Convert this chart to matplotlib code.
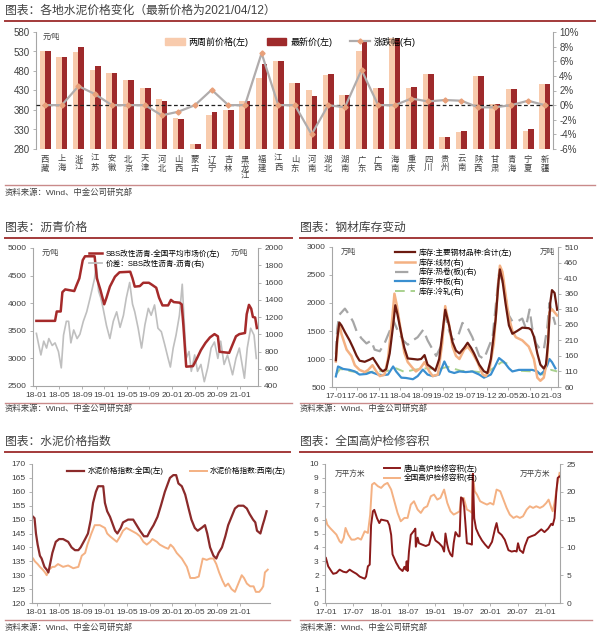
import matplotlib
matplotlib.use('Agg')
import matplotlib.pyplot as plt
from matplotlib.lines import Line2D
from matplotlib.patches import Patch
from matplotlib.ticker import FuncFormatter

plt.rcParams['font.family'] = ['Liberation Sans', 'Noto Sans CJK SC', 'DejaVu Sans']
plt.rcParams['axes.unicode_minus'] = False

# ---------------- data ----------------
# panel 1: cement prices by province
provinces = ['西藏', '上海', '浙江', '江苏', '安徽', '北京', '天津', '河北', '山西', '蒙古',
             '辽宁', '吉林', '黑龙江', '福建', '江西', '山东', '河南', '湖北', '湖南', '广东',
             '广西', '海南', '重庆', '四川', '贵州', '云南', '陕西', '甘肃', '青海', '宁夏', '新疆']
price_2w = [532, 517, 528, 483, 476, 457, 436, 409, 359, 293,
            367, 380, 402, 463, 505, 449, 432, 470, 419, 530,
            437, 565, 436, 473, 310, 323, 466, 396, 433, 327, 447]
price_new = [531, 516, 541, 492, 476, 457, 436, 404, 356, 293,
             376, 380, 404, 498, 505, 449, 415, 473, 419, 556,
             437, 565, 440, 473, 312, 326, 466, 396, 433, 331, 447]
price_chg = [0.0, 0.0, 2.6, 1.5, 0.0, 0.0, 0.0, -1.4, -0.9, 0.0,
             2.1, 0.0, 0.0, 7.1, 0.0, 0.0, -4.0, 0.0, -0.3, 4.8,
             0.0, 0.0, 0.9, 0.5, 0.7, 0.6, -0.3, -0.3, 0.0, 0.6, 0.0]

# panel 2: asphalt, months since 2018-01
sbs_t = [0.0, 3.3, 3.6, 4.3, 4.6, 5.1, 6.7, 7.0, 7.6, 8.2, 8.6, 10.3, 10.7, 11.3, 12.0,
         12.4, 13.0, 13.9, 14.7, 16.6, 17.0, 17.4, 18.3, 18.9, 19.9, 20.5, 21.2, 21.7,
         22.3, 23.3, 23.8, 24.3, 25.3, 25.7, 26.0, 26.5, 27.7, 28.4, 29.1, 29.9, 30.7,
         31.5, 32.1, 32.4, 34.1, 34.7, 35.3, 35.9, 36.9, 37.2, 37.6, 38.0, 38.3, 38.7, 39.0]
sbs_v = [3680, 3680, 3850, 3850, 4200, 4250, 4220, 4300, 4450, 4780, 4850, 4850, 4450, 4250, 3980,
         4100, 4300, 4480, 4560, 4570, 4450, 4300, 4310, 4370, 4370, 4330, 4280, 4100,
         3960, 3960, 4060, 4020, 4010, 3980, 3600, 2850, 2860, 3000, 3150, 3280, 3380,
         3440, 3400, 3120, 3100, 3250, 3400, 3440, 3460, 3800, 3970, 3900, 3750, 3740, 3550]
spread_t = [0.0, 0.4, 0.8, 1.3, 1.8, 2.2, 2.8, 3.3, 3.9, 4.4, 4.8, 5.3, 5.7, 6.1, 6.6, 7.2,
            7.7, 8.3, 8.9, 9.5, 10.3, 10.6, 11.0, 11.4, 11.8, 12.4, 13.0, 13.6, 14.2, 14.8,
            15.4, 15.9, 16.5, 17.0, 17.4, 18.0, 18.6, 19.2, 19.8, 20.3, 20.9, 21.5, 22.1,
            22.7, 23.3, 23.7, 24.2, 24.7, 25.3, 25.8, 26.1, 26.5, 27.0, 27.4, 28.0, 28.5,
            29.1, 29.7, 30.3, 30.9, 31.5, 32.1, 32.6, 33.2, 33.8, 34.7, 35.3, 35.9, 36.8,
            37.3, 37.9, 38.5, 38.9]
spread_v = [1010, 880, 760, 920, 840, 950, 870, 900, 800, 610, 990, 1150, 1150, 900, 1050, 950,
            1000, 1150, 1260, 1420, 1650, 1820, 1500, 1420, 1300, 1100, 950, 1150, 1260, 1080,
            1220, 1420, 1600, 1350, 1260, 1070, 840, 1110, 1300, 1220, 1340, 1070, 1030,
            880, 720, 620, 840, 990, 1220, 1580, 1200, 720, 800, 570, 760, 570,
            650, 450, 610, 840, 910, 720, 920, 650, 760, 530, 720, 840, 490,
            840, 1070, 990, 720]

# panel 3: steel inventory, months since 2017-01
tot_t = [0.0, 0.3, 0.8, 1.3, 2.1, 3.2, 4.0, 4.8, 5.5, 6.7, 7.9, 8.6, 9.2, 10.2, 10.9, 11.7,
         12.5, 13.3, 13.8, 14.3, 15.2, 15.9, 16.7, 17.9, 19.0, 19.8, 20.6, 21.3, 22.5, 23.1,
         24.0, 24.8, 25.4, 26.3, 27.1, 27.9, 28.7, 29.8, 30.6, 31.4, 32.1, 33.3, 34.4, 35.2,
         36.0, 37.1, 37.8, 38.1, 38.7, 39.4, 40.2, 41.0, 42.1, 43.3, 44.8, 45.4, 46.0, 46.8,
         47.5, 48.3, 48.8, 49.3, 49.8, 50.2, 50.8, 51.4]
tot_v = [980, 1350, 1650, 1600, 1480, 1330, 1200, 1060, 970, 950, 990, 1020, 950, 830, 780, 820,
         1100, 1600, 1960, 1800, 1450, 1200, 1010, 1000, 990, 1000, 1070, 900, 830, 790,
         1000, 1500, 1880, 1600, 1300, 1150, 1100, 1200, 1290, 1200, 1100, 900, 780, 750,
         1000, 1700, 2400, 2600, 2400, 2000, 1600, 1450, 1500, 1560, 1550, 1520, 1400, 1100,
         900, 830, 900, 1300, 2000, 2230, 2180, 1880]
wire_t = [0.0, 0.3, 0.8, 1.3, 2.5, 3.6, 4.4, 5.5, 6.7, 7.5, 8.5, 9.4, 10.2, 11.3, 12.1, 13.1,
          13.6, 14.2, 15.2, 15.9, 16.7, 17.9, 18.6, 19.6, 20.6, 21.7, 22.5, 23.7, 24.7, 25.4,
          26.3, 27.1, 27.9, 28.7, 29.8, 30.6, 31.7, 32.9, 34.1, 34.8, 35.6, 36.7, 37.5, 38.1,
          38.7, 39.4, 40.1, 41.0, 41.8, 43.3, 44.8, 46.0, 46.8, 47.5, 48.3, 49.1, 49.6, 50.2, 51.4]
wire_v = [142, 200, 265, 230, 180, 160, 130, 115, 108, 115, 130, 110, 95, 100, 150, 280,
          360, 320, 230, 170, 140, 120, 110, 120, 140, 110, 95, 100, 200, 320,
          260, 190, 160, 150, 180, 190, 170, 140, 100, 95, 110, 200, 350, 450,
          430, 360, 290, 240, 220, 210, 190, 150, 90, 80, 90, 150, 300, 310, 290]
hot_t = [0.0, 0.3, 0.8, 2.1, 3.2, 4.0, 4.8, 5.9, 7.1, 8.2, 9.0, 10.2, 11.3, 12.5, 13.4, 14.4,
         15.6, 16.7, 17.9, 19.0, 20.3, 21.3, 22.5, 23.3, 24.4, 25.4, 26.3, 27.1, 28.3, 29.4,
         30.6, 31.7, 33.3, 34.4, 36.4, 37.9, 38.7, 39.4, 40.2, 41.0, 42.1, 43.3, 44.1, 45.0,
         45.6, 46.5, 47.5, 48.3, 49.1, 49.6, 50.2, 51.0]
hot_v = [165, 245, 292, 312, 290, 270, 240, 217, 200, 209, 180, 175, 200, 240, 273, 240,
         210, 196, 210, 220, 244, 210, 180, 160, 190, 292, 240, 212, 220, 266,
         250, 220, 160, 150, 220, 426, 400, 350, 290, 271, 270, 280, 250, 309,
         250, 200, 180, 180, 250, 330, 300, 260]
plate_t = [0.0, 0.5, 1.7, 3.2, 4.4, 5.5, 7.1, 8.2, 9.8, 10.9, 12.1, 13.3, 14.0, 15.2, 16.3,
           17.9, 19.0, 20.2, 21.3, 22.5, 24.0, 25.2, 26.3, 27.5, 28.7, 30.2, 31.7, 33.3, 34.4,
           36.0, 37.1, 37.9, 39.1, 40.2, 41.0, 42.5, 44.1, 45.6, 46.8, 47.5, 48.3, 49.1, 49.6,
           50.2, 51.0]
plate_v = [94, 126, 118, 115, 110, 100, 102, 108, 100, 98, 100, 126, 110, 90, 89,
           85, 95, 116, 100, 95, 100, 142, 110, 105, 110, 108, 110, 100, 90,
           100, 130, 153, 140, 120, 110, 115, 115, 115, 110, 100, 110, 130, 150,
           140, 120]
cold_t = [0.0, 1.0, 3.0, 6.0, 9.0, 12.0, 14.0, 16.0, 18.0, 21.0, 24.0, 26.0, 29.0, 32.0,
          35.0, 37.0, 38.5, 40.0, 41.0]
cold_v = [100, 118, 112, 105, 110, 112, 120, 108, 115, 120, 118, 125, 112, 110,
          105, 125, 140, 135, 128]
cold2_t = [43.0, 46.0, 48.0, 50.0, 51.4]
cold2_v = [112, 110, 100, 115, 110]

# panel 4: cement price index, months since 2018-01
cn_t = [-0.6, -0.35, -0.1, 0.2, 0.6, 0.9, 1.4, 1.8, 2.1, 2.5, 2.8, 3.4, 4.0, 4.7, 5.6, 6.2,
        6.8, 7.4, 7.8, 8.6, 9.1, 9.6, 10.0, 10.5, 10.9, 11.8, 12.1, 12.5, 13.0, 13.9, 14.3,
        14.9, 15.3, 16.2, 17.1, 17.7, 18.3, 19.0, 19.6, 20.1, 20.7, 21.4, 22.0, 22.7, 23.6,
        24.2, 24.7, 25.1, 25.7, 26.3, 26.9, 27.4, 28.0, 28.5, 29.2, 29.8, 30.2, 30.7, 31.3,
        31.8, 32.2, 32.8, 33.4, 33.9, 34.5, 35.1, 35.7, 36.6, 37.2, 37.7, 38.3, 38.7, 39.0,
        39.6, 40.0, 40.3, 40.7]
cn_v = [151, 150.5, 145, 141, 137, 136, 133, 132, 131, 135, 138, 142, 143, 143, 142, 140,
        139, 139, 140, 143, 145, 150, 156, 160, 162, 162, 156, 153, 151, 146, 145,
        147, 149, 150, 150, 148, 146, 144, 144, 146, 148, 151, 155, 160, 165,
        166, 166, 163, 162, 159, 154, 150, 147, 146, 147, 148, 145, 140, 137,
        136, 138, 140, 144, 148, 151, 154, 155, 155, 154, 152, 150, 149, 146,
        145, 148, 150, 153]
sw_t = [-0.6, -0.3, 0.2, 0.6, 1.1, 1.5, 1.8, 2.2, 2.8, 3.2, 3.8, 4.7, 5.6, 6.5, 7.4, 8.0,
        8.6, 9.0, 9.7, 10.3, 11.2, 12.1, 12.5, 13.0, 13.6, 14.2, 14.8, 15.3, 15.9, 16.8,
        17.7, 18.3, 18.9, 19.5, 20.1, 20.5, 21.3, 21.8, 22.7, 23.3, 23.7, 24.2, 24.8, 25.7,
        26.6, 27.2, 28.0, 28.7, 29.4, 30.1, 30.7, 31.3, 31.8, 32.3, 32.9, 33.4, 33.9, 34.5,
        35.1, 35.5, 35.9, 36.3, 36.7, 37.2, 37.8, 38.4, 38.8, 39.4, 39.8, 40.1, 40.4, 40.9]
sw_v = [136, 135, 134, 133, 132, 131, 130, 132, 133, 133, 134, 133, 133.5, 132.5, 133, 137,
        138, 141, 145, 148, 148, 147, 145, 144, 143, 142, 144, 146, 147, 146,
        145, 144, 142, 141, 142, 143, 142, 141, 140, 139.5, 141, 140, 138, 136,
        133, 129, 129, 129.5, 136, 135.5, 136, 136, 134, 131, 128, 126, 127, 125,
        124, 126, 128, 130, 129, 127, 126, 126, 124, 124, 125, 126, 131, 132]

# panel 5: blast furnace maintenance volume, months since 2017-01
ts_t = [0.0, 0.5, 1.2, 1.6, 2.3, 3.0, 3.8, 4.5, 5.2, 5.9, 6.7, 7.4, 8.1, 8.5, 8.8, 9.2, 9.6,
        9.9, 10.3, 10.6, 11.2, 11.7, 12.1, 12.8, 13.5, 13.9, 14.3, 14.6, 15.4, 16.1, 16.8,
        17.2, 17.5, 17.7, 17.9, 18.2, 18.6, 19.3, 19.6, 19.7, 20.1, 20.4, 21.1, 21.9, 22.6,
        23.3, 24.0, 24.8, 25.5, 25.9, 26.2, 26.6, 26.9, 27.3, 27.7, 28.0, 28.4, 29.0, 29.3,
        29.6, 30.0, 30.3, 30.9, 31.6, 32.0, 32.2, 32.5, 32.9, 33.5, 34.2, 34.9, 35.6, 36.4,
        37.1, 37.4, 37.8, 38.5, 39.2, 40.0, 40.7, 41.4, 41.8, 42.1, 42.5, 42.9, 43.2, 43.6,
        44.3, 45.0, 45.8, 46.5, 47.2, 47.9, 48.7, 49.4, 49.7, 50.1, 50.5, 50.8, 51.2]
ts_v = [3.24, 2.64, 2.28, 2.1, 2.16, 2.4, 2.25, 2.2, 2.4, 2.25, 2.1, 1.9, 1.8, 1.75, 1.9, 2.64, 2.76,
        5.6, 6.6, 6.7, 6.1, 5.75, 6.0, 5.95, 5.9, 5.6, 4.9, 3.5, 2.9, 2.5, 2.3,
        2.6, 2.4, 3.0, 2.3, 3.7, 4.9, 5.2, 5.35, 4.05, 4.7, 4.3, 4.2, 4.1, 4.2,
        5.1, 4.5, 4.3, 4.05, 3.7, 5.0, 4.2, 3.8, 3.5, 3.35, 4.3, 5.1, 4.8, 4.8,
        7.6, 7.5, 6.9, 4.3, 4.25, 4.2, 9.3, 6.1, 5.35, 4.9, 4.5, 4.2, 3.95, 4.4,
        5.4, 5.75, 5.1, 4.9, 4.55, 3.8, 3.7, 3.75, 3.7, 4.3, 3.8, 3.7, 3.6, 4.1,
        4.7, 4.8, 4.9, 5.1, 5.3, 5.1, 5.35, 5.7, 5.6, 6.1, 8.0, 9.0, 9.1]
nat_t = [0.0, 0.3, 0.9, 1.6, 2.3, 3.0, 3.4, 3.9, 4.3, 4.9, 5.6, 6.3, 7.0, 7.7, 8.5, 9.2, 9.7,
         10.1, 10.6, 11.4, 12.1, 12.8, 13.5, 14.3, 15.0, 15.7, 16.4, 17.2, 17.9, 18.6, 19.3,
         20.1, 20.8, 21.5, 22.2, 23.0, 23.7, 24.4, 25.1, 25.9, 26.6, 27.3, 28.0, 28.7, 29.3,
         29.6, 30.2, 30.9, 31.6, 32.0, 32.2, 32.6, 33.1, 33.8, 34.5, 35.3, 36.0, 36.7, 37.4,
         38.2, 38.9, 39.6, 40.3, 41.1, 41.8, 42.5, 43.2, 44.0, 44.7, 45.4, 46.1, 46.9, 47.6,
         48.3, 48.8, 49.4, 49.7, 50.1, 50.7, 51.2]
nat_v = [15.0, 14.1, 13.5, 12.9, 12.3, 11.1, 10.8, 11.7, 13.5, 12.3, 11.4, 11.4, 11.7, 11.4, 12.9, 12.6, 15.9,
         21.3, 21.6, 21.0, 20.7, 21.3, 21.6, 20.4, 18.3, 16.2, 14.7, 15.3, 15.3, 17.7, 18.3,
         16.8, 16.2, 17.1, 17.4, 19.2, 19.5, 18.6, 18.9, 20.4, 18.0, 16.5, 15.9, 16.2, 16.5,
         18.6, 18.9, 16.8, 16.5, 16.2, 23.1, 20.1, 19.5, 18.3, 18.0, 17.7, 18.0, 17.7, 20.4,
         20.1, 18.6, 17.1, 15.9, 15.3, 15.6, 15.3, 15.6, 16.8, 17.4, 17.1, 17.4, 17.1, 17.4,
         18.0, 18.6, 17.1, 16.5, 18.0, 21.3, 23.4]

# ---------------- layout helpers ----------------
W, H = 600, 643
fig = plt.figure(figsize=(6, 6.43), dpi=100)
TXT = '#404040'
RED = '#A33A3A'
GRID = '#A6A6A6'
TICK = 6


def box(l, t, r, b):
    return [l / W, 1 - b / H, (r - l) / W, (b - t) / H]


def ftext(x, y, s, **kw):
    fig.text(x / W, 1 - y / H, s, **kw)


def hline(x0, x1, y, color=RED, lw=1.4):
    fig.add_artist(Line2D([x0 / W, x1 / W], [1 - y / H, 1 - y / H], color=color, lw=lw))


def header(x0, x1, y, title, ybot, ysrc):
    ftext(x0, y, title, fontsize=8.5, color=TXT, va='center', ha='left')
    hline(x0, x1, y + 10)
    hline(x0, x1, ybot, color='#C98A8A', lw=1.0)
    ftext(x0, ysrc, '资料来源：Wind、中金公司研究部', fontsize=6, color=TXT, va='center')


def style(ax, right=False, size=TICK):
    ax.spines['top'].set_visible(False)
    ax.spines['right'].set_visible(right)
    for s in ax.spines.values():
        s.set_color(GRID)
        s.set_linewidth(0.8)
    ax.tick_params(labelsize=size, labelcolor=TXT, color=GRID, length=2.5, width=0.6, pad=2)
    ax.set_facecolor('none')


def twin(ax, size=TICK):
    ax2 = ax.twinx()
    style(ax2, right=True, size=size)
    ax2.spines['left'].set_visible(False)
    ax2.spines['bottom'].set_visible(False)
    return ax2


def month_ticks(ax, y0, m0, step, n):
    pos, lab = [], []
    for k in range(n):
        m = m0 - 1 + k * step
        pos.append(k * step)
        lab.append('%02d-%02d' % (y0 + m // 12, m % 12 + 1))
    ax.set_xticks(pos)
    ax.set_xticklabels(lab)


# ---------------- panel 1 ----------------
header(5, 595, 11, '图表：各地水泥价格变化（最新价格为2021/04/12）', 185, 193)
ax1 = fig.add_axes(box(36, 32, 553, 149))
style(ax1, size=7)
x = list(range(len(provinces)))
ax1.bar([i - 0.165 for i in x], price_2w, width=0.33, color='#F8CBAD', label='两周前价格(左)')
ax1.bar([i + 0.165 for i in x], price_new, width=0.33, color='#9E2A2B', label='最新价(左)')
ax1.set_ylim(280, 580)
ax1.set_yticks(range(280, 581, 50))
ax1.set_xlim(-0.55, len(provinces) - 0.5)
ax1.set_xticks(x)
ax1.set_xticklabels(['\n'.join(p) for p in provinces], fontsize=6, linespacing=1.1, va='top')
ax1.tick_params(axis='x', length=0, pad=5)
ax1.spines['bottom'].set_visible(False)
ax1b = twin(ax1, size=7)
ax1b.axhline(0, color='#202020', lw=0.9, ls=(0, (3, 2)))
ax1b.plot(x, price_chg, color='#B0ACAC', lw=1.6, marker='D', ms=2.6,
          mfc='#E8A07A', mec='#E8A07A', label='涨跌幅(右)')
ax1b.set_ylim(-6, 10)
ax1b.set_yticks(range(-6, 11, 2))
ax1b.yaxis.set_major_formatter(FuncFormatter(lambda v, p: '%d%%' % v))
ax1.text(0.012, 0.985, '元/吨', transform=ax1.transAxes, fontsize=5.5, color=TXT, va='top')
h = [Patch(color='#F8CBAD'), Patch(color='#9E2A2B'),
     Line2D([], [], color='#B0ACAC', lw=1.6, marker='D', ms=2.6, mfc='#E8A07A', mec='#E8A07A')]
ax1.legend(h, ['两周前价格(左)', '最新价(左)', '涨跌幅(右)'], ncol=3, frameon=False, fontsize=6.5,
           loc='upper right', bbox_to_anchor=(0.75, 1.03), handlelength=2.2, columnspacing=2.0,
           handletextpad=0.4)

# ---------------- panel 2 ----------------
header(5, 292, 228, '图表：沥青价格', 403, 409)
ax2 = fig.add_axes(box(33, 248, 258, 386))
style(ax2)
ax2b = twin(ax2)
ax2b.plot(spread_t, spread_v, color='#BFBFBF', lw=1.2)
ax2.plot(sbs_t, sbs_v, color='#A52A2A', lw=1.8)
ax2.set_zorder(ax2b.get_zorder() + 1)
ax2.set_ylim(2500, 5000)
ax2.set_yticks(range(2500, 5001, 500))
ax2b.set_ylim(400, 2000)
ax2b.set_yticks(range(400, 2001, 200))
ax2.set_xlim(-0.6, 39.2)
month_ticks(ax2, 18, 1, 4, 10)
ax2.text(0.04, 0.985, '元/吨', transform=ax2.transAxes, fontsize=5.5, color=TXT, va='top')
ax2.text(0.955, 0.985, '元/吨', transform=ax2.transAxes, fontsize=5.5, color=TXT, va='top', ha='right')
h = [Line2D([], [], color='#A52A2A', lw=1.8), Line2D([], [], color='#BFBFBF', lw=1.3)]
ax2.legend(h, ['SBS改性沥青-全国平均市场价(左)', '价差：SBS改性沥青-沥青(右)'], frameon=False,
           fontsize=5.5, loc='upper right', bbox_to_anchor=(0.86, 1.04), handlelength=1.8,
           handletextpad=0.4, labelspacing=0.2)

# ---------------- panel 3 ----------------
header(300, 592, 228, '图表：钢材库存变动', 403, 409)
ax3 = fig.add_axes(box(332, 247, 558, 387))
style(ax3)
ax3b = twin(ax3)
ax3b.plot(cold_t, cold_v, color='#A9D18E', lw=1.4, ls=(0, (5, 3)))
ax3b.plot(cold2_t, cold2_v, color='#A9D18E', lw=1.4, ls=(0, (5, 3)))
ax3b.plot(plate_t, plate_v, color='#3A8FD0', lw=1.6)
ax3b.plot(hot_t, hot_v, color='#A6A6A6', lw=1.6, ls=(0, (6, 3)))
ax3b.plot(wire_t, wire_v, color='#F4B183', lw=1.8)
ax3.plot(tot_t, tot_v, color='#6B1A10', lw=1.6)
ax3.set_zorder(ax3b.get_zorder() + 1)
ax3.set_ylim(500, 3000)
ax3.set_yticks(range(500, 3001, 500))
ax3b.set_ylim(60, 510)
ax3b.set_yticks(range(60, 511, 50))
ax3.set_xlim(-0.9, 51.6)
month_ticks(ax3, 17, 1, 5, 11)
ax3.text(0.04, 0.985, '万吨', transform=ax3.transAxes, fontsize=5.5, color=TXT, va='top')
ax3.text(0.985, 0.985, '万吨', transform=ax3.transAxes, fontsize=5.5, color=TXT, va='top', ha='right')
h = [Line2D([], [], color='#6B1A10', lw=1.6), Line2D([], [], color='#F4B183', lw=1.8),
     Line2D([], [], color='#A6A6A6', lw=1.6, ls=(0, (6, 3))), Line2D([], [], color='#3A8FD0', lw=1.6),
     Line2D([], [], color='#A9D18E', lw=1.4, ls=(0, (5, 3)))]
ax3.legend(h, ['库存:主要钢材品种:合计(左)', '库存:线材(右)', '库存:热卷(板)(右)', '库存:中板(右)',
               '库存:冷轧(右)'], frameon=False, fontsize=5.5, loc='upper left',
           bbox_to_anchor=(0.25, 1.04), handlelength=2.6, handletextpad=0.4, labelspacing=0.15)

# ---------------- panel 4 ----------------
header(5, 290, 442, '图表：水泥价格指数', 620, 628)
ax4 = fig.add_axes(box(32, 464, 270, 603))
style(ax4)
ax4.plot(sw_t, sw_v, color='#F4B183', lw=1.4)
ax4.plot(cn_t, cn_v, color='#8B2A2A', lw=1.6)
ax4.set_ylim(120, 170)
ax4.set_yticks(range(120, 171, 5))
ax4.set_xlim(-0.8, 41.3)
month_ticks(ax4, 18, 1, 4, 10)
h = [Line2D([], [], color='#8B2A2A', lw=1.6), Line2D([], [], color='#F4B183', lw=1.4)]
ax4.legend(h, ['水泥价格指数:全国(左)', '水泥价格指数:西南(左)'], ncol=2, frameon=False, fontsize=5.5,
           loc='upper left', bbox_to_anchor=(0.12, 1.03), handlelength=2.2, handletextpad=0.4,
           columnspacing=3.5)

# ---------------- panel 5 ----------------
header(300, 592, 442, '图表：全国高炉检修容积', 620, 628)
ax5 = fig.add_axes(box(325, 464, 560, 603))
style(ax5)
ax5b = twin(ax5)
ax5b.plot(nat_t, nat_v, color='#F4B183', lw=1.4)
ax5.plot(ts_t, ts_v, color='#8B1A1A', lw=1.4)
ax5.set_zorder(ax5b.get_zorder() + 1)
ax5.set_ylim(0, 10)
ax5.set_yticks(range(0, 11))
ax5b.set_ylim(0, 25)
ax5b.set_yticks(range(0, 26, 5))
ax5.set_xlim(-0.2, 51.3)
month_ticks(ax5, 17, 1, 6, 9)
ax5.text(0.04, 0.96, '万平方米', transform=ax5.transAxes, fontsize=5.5, color=TXT, va='top')
ax5.text(0.96, 0.96, '万平方米', transform=ax5.transAxes, fontsize=5.5, color=TXT, va='top', ha='right')
h = [Line2D([], [], color='#8B1A1A', lw=1.4), Line2D([], [], color='#F4B183', lw=1.4)]
ax5.legend(h, ['唐山高炉检修容积(左)', '全国高炉检修容积(右)'], frameon=False, fontsize=5.5,
           loc='upper left', bbox_to_anchor=(0.22, 1.05), handlelength=2.2, handletextpad=0.4,
           labelspacing=0.15)

fig.savefig('out.png', dpi=100)
